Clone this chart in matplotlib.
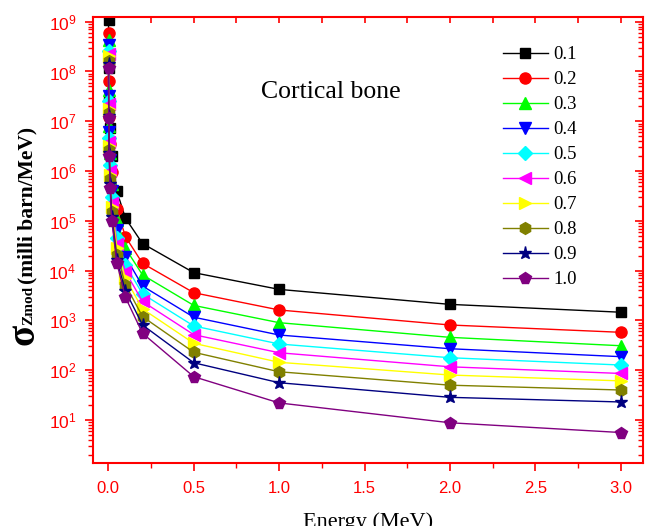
import matplotlib
matplotlib.use('Agg')
import matplotlib.pyplot as plt
from matplotlib.ticker import LogLocator, MultipleLocator, NullFormatter
import numpy as np

# energies (MeV) and cross sections (milli barn/MeV)
energy = [0.001, 0.002, 0.005, 0.01, 0.02, 0.05, 0.1, 0.2, 0.5, 1.0, 2.0, 3.0]

sig_01 = [1.08e9, 1.15e8, 2.4e7, 7.2e6, 2.0e6, 3.9e5, 1.13e5, 3.5e4, 9.1e3, 4.2e3, 2.1e3, 1.46e3]
sig_02 = [5.9e8, 6.3e7, 1.2e7, 3.5e6, 9.7e5, 1.7e5, 4.8e4, 1.4e4, 3.6e3, 1.62e3, 809, 577]
sig_03 = [4.2e8, 4.3e7, 8.0e6, 2.3e6, 5.5e5, 1.05e5, 2.8e4, 8.2e3, 2.0e3, 900, 457, 310]
sig_04 = [3.4e8, 3.2e7, 6.0e6, 1.7e6, 4.0e5, 6.5e4, 1.9e4, 4.9e3, 1.16e3, 509, 270, 187]
sig_05 = [2.6e8, 2.6e7, 4.7e6, 1.3e6, 3.0e5, 4.5e4, 1.3e4, 3.4e3, 773, 336, 178, 127]
sig_06 = [2.2e8, 2.2e7, 3.8e6, 1.0e6, 2.3e5, 3.5e4, 9.5e3, 2.4e3, 517, 224, 117, 86]
sig_07 = [2.0e8, 1.8e7, 3.2e6, 8.5e5, 1.9e5, 2.8e4, 7.0e3, 1.7e3, 347, 144, 80, 61]
sig_08 = [1.66e8, 1.45e7, 2.7e6, 7.0e5, 1.5e5, 2.1e4, 5.2e3, 1.19e3, 229, 93, 50, 40]
sig_09 = [1.4e8, 1.3e7, 2.3e6, 5.5e5, 1.2e5, 1.6e4, 3.9e3, 809, 141, 56, 28.5, 23]
sig_10 = [1.2e8, 1.15e7, 2.0e6, 4.5e5, 1.0e5, 1.4e4, 2.9e3, 551, 74, 22, 8.8, 5.6]

labels = ['0.1', '0.2', '0.3', '0.4', '0.5', '0.6', '0.7', '0.8', '0.9', '1.0']
series = [sig_01, sig_02, sig_03, sig_04, sig_05, sig_06, sig_07, sig_08, sig_09, sig_10]

colors = ['#000000', '#FF0000', '#00FF00', '#0000FF', '#00FFFF',
          '#FF00FF', '#FFFF00', '#808000', '#000080', '#800080']
markers = ['s', 'o', '^', 'v', 'D', '<', '>', 'h', '*', 'p']
msizes = [7, 8, 8.5, 8.5, 7, 8.5, 8.5, 8.5, 9.5, 8.5]

plt.rcParams['font.family'] = ['Liberation Sans', 'DejaVu Sans']
plt.rcParams['mathtext.default'] = 'regular'

red = '#FF0000'
fig = plt.figure(figsize=(6.51, 5.26), dpi=100)
ax = fig.add_axes([93/651, 1 - 462.5/526, 550/651, (462.5 - 16.7)/526])

for y, lab, c, m, ms in zip(series, labels, colors, markers, msizes):
    ax.plot(energy, y, color=c, marker=m, markersize=ms, markeredgecolor=c,
            linewidth=1.0, label=lab)

ax.set_yscale('log')
ax.set_xlim(-0.09, 3.13)
ax.set_ylim(1.4, 1.26e9)

ax.xaxis.set_major_locator(MultipleLocator(0.5))
ax.xaxis.set_minor_locator(MultipleLocator(0.25))
ax.xaxis.set_major_formatter(matplotlib.ticker.FormatStrFormatter('%.1f'))
ax.yaxis.set_major_locator(LogLocator(base=10, numticks=30))
ax.yaxis.set_minor_locator(LogLocator(base=10, subs=np.arange(2, 10), numticks=100))
ax.yaxis.set_minor_formatter(NullFormatter())

for sp in ax.spines.values():
    sp.set_color(red)
    sp.set_linewidth(1.5)

ax.tick_params(which='major', direction='out', length=6, width=1.2, colors=red,
               labelsize=12, pad=7)
ax.tick_params(axis='y', which='major', labelsize=12.5, pad=6)
ax.tick_params(which='minor', direction='out', length=3.5, width=1.0, colors=red)

# inward ticks on the top and right sides
top = ax.secondary_xaxis('top')
top.xaxis.set_major_locator(MultipleLocator(0.25))
top.tick_params(which='both', direction='in', length=4.5, width=1.2, colors=red,
                labeltop=False)
top.spines['top'].set_visible(False)
right = ax.secondary_yaxis('right')
right.yaxis.set_major_locator(LogLocator(base=10, numticks=30))
right.yaxis.set_minor_locator(LogLocator(base=10, subs=np.arange(2, 10), numticks=100))
right.tick_params(which='major', direction='in', length=6, width=1.2, colors=red,
                  labelright=False)
right.tick_params(which='minor', direction='in', length=3.5, width=1.0, colors=red,
                  labelright=False)
right.spines['right'].set_visible(False)

serif = ['Liberation Serif', 'DejaVu Serif']

ax.set_xlabel('Energy (MeV)', family=serif, fontsize=16, labelpad=12)

# y label pieces: big sigma, subscript, unit
fig.text(24/651, 1 - 334/526, 'σ', family=serif, fontweight='bold', fontsize=28,
         rotation=90, ha='center', va='center')
fig.text(29/651, 1 - 305/526, 'Zmod', family=serif, fontweight='bold', fontsize=11,
         rotation=90, ha='center', va='center')
fig.text(27/651, 1 - 205/526, '(milli barn/MeV)', family=serif, fontweight='bold',
         fontsize=15.5, rotation=90, ha='center', va='center')

fig.text(331/651, 1 - 97.7/526, 'Cortical bone', family=serif, fontsize=18.5,
         ha='center', va='baseline')

ax.legend(loc='upper left', bbox_to_anchor=(503/651, 1 - 46/526),
          bbox_transform=fig.transFigure, frameon=False, borderpad=0,
          borderaxespad=0, handlelength=2.4, handletextpad=0.3, labelspacing=0.42,
          prop={'family': serif, 'size': 13.5})

plt.savefig('out.png', dpi=100)
